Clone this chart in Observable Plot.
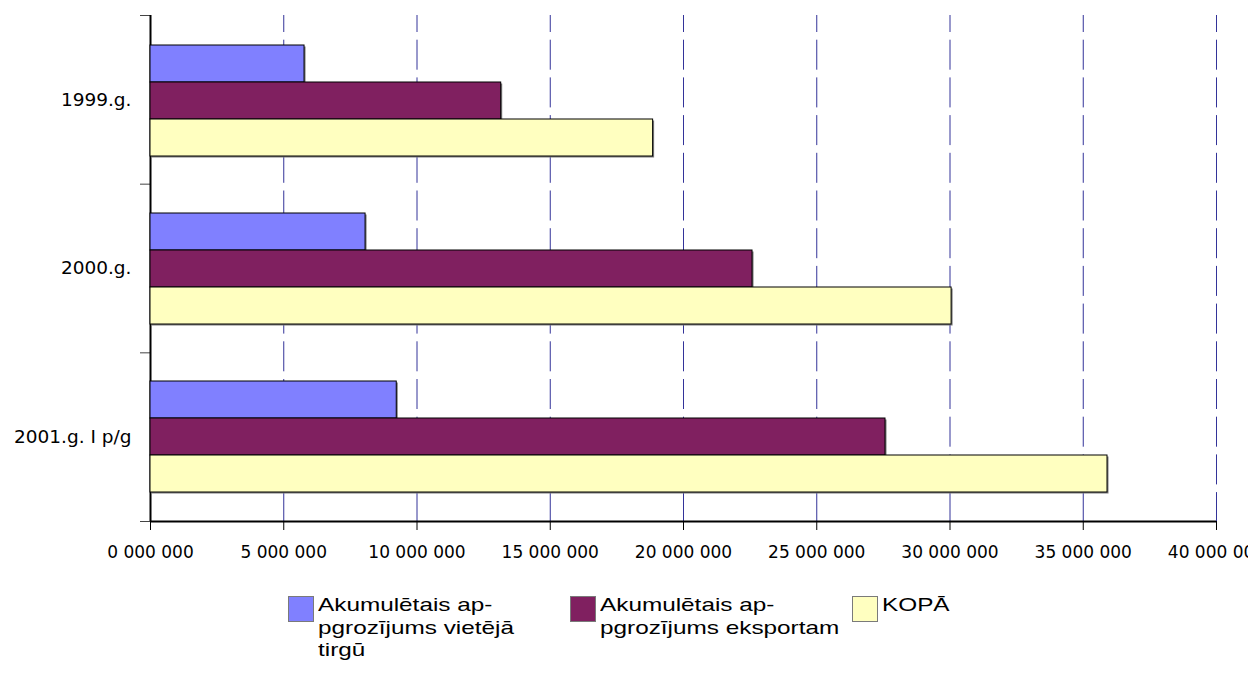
<!DOCTYPE html>
<html>
<head>
<meta charset="utf-8">
<script src="https://cdn.jsdelivr.net/npm/d3@7"></script>
<script src="https://cdn.jsdelivr.net/npm/@observablehq/plot@0.6"></script>
<style>
  html, body { margin: 0; padding: 0; background: #fff; }
  #wrap { position: relative; width: 1248px; height: 675px; overflow: hidden; }
  #wrap svg { position: absolute; left: 0; top: 0; }
  .leg-item { position: absolute; display: flex; align-items: flex-start; }
  .leg-sw { width: 24px; height: 24px; border: 1px solid #7a7a7a; box-sizing: content-box; flex: none; }
  .leg-txt { margin-left: 4px; font-family: "Liberation Sans", Arial, sans-serif; font-size: 19px; line-height: 22.5px;
             color: #000; transform: scaleX(1.28); transform-origin: left top; white-space: nowrap; margin-top: -2px; }
</style>
</head>
<body>
<div id="wrap"></div>
<script>
// ---- data ----
const categories = ["1999.g.", "2000.g.", "2001.g. I p/g"];
const seriesNames = [
  "Akumulētais ap-pgrozījums vietējā tirgū",
  "Akumulētais ap-pgrozījums eksportam",
  "KOPĀ"
];
const legendLines = [
  ["Akumulētais ap-", "pgrozījums vietējā", "tirgū"],
  ["Akumulētais ap-", "pgrozījums eksportam"],
  ["KOPĀ"]
];
const localMarket  = [5780000, 8070000, 9240000];
const exportMarket = [13160000, 22590000, 27580000];
const totalValues  = [18860000, 30060000, 35910000];
const seriesColors = ["#8080FF", "#802060", "#FFFFC0"];
const xTicks = [0, 5000000, 10000000, 15000000, 20000000, 25000000, 30000000, 35000000, 40000000];
const xTickLabels = ["0 000 000", "5 000 000", "10 000 000", "15 000 000", "20 000 000",
                     "25 000 000", "30 000 000", "35 000 000", "40 000 000"];
const gridValues = xTicks.slice(1);

const seriesValues = [localMarket, exportMarket, totalValues];
const rows = categories.flatMap((c, i) =>
  seriesNames.map((s, j) => ({category: c, series: s, value: seriesValues[j][i]})));

const W = 1248, H = 570;
const dims = {width: W, height: H, marginLeft: 150, marginRight: 32, marginTop: 15, marginBottom: 49};

// ---- back layer: grid, axes, labels ----
const back = Plot.plot({
  ...dims,
  style: {fontFamily: "DejaVu Sans, sans-serif", fontSize: "17px", background: "white", color: "black"},
  x: {domain: [0, 40000000]},
  y: {domain: [0, 3], reverse: true},
  marks: [
    Plot.ruleX(gridValues, {stroke: "#333399", strokeWidth: 1, strokeDasharray: "30,7.7", strokeDashoffset: 13}),
    Plot.axisX({ticks: xTicks, tickFormat: d => xTickLabels[xTicks.indexOf(d)], tickSize: 9, tickPadding: 15,
                stroke: "black", fill: "black", fontSize: 17}),
    Plot.axisY({ticks: [0, 1, 2, 3], tickFormat: () => "", tickSize: 10, stroke: "#444", label: null}),
    Plot.ruleX([0], {stroke: "black", strokeWidth: 2}),
    Plot.ruleY([3], {stroke: "black", strokeWidth: 2}),
    Plot.text(categories, {x: 0, y: (d, i) => i + 0.5, text: d => d, textAnchor: "end", dx: -19,
                           fontSize: 18.5, fill: "black"})
  ]
});

// ---- front layer: bars ----
const front = Plot.plot({
  ...dims,
  style: {background: "transparent"},
  x: {domain: [0, 40000000], axis: null},
  y: {domain: seriesNames, axis: null, paddingInner: 0, paddingOuter: 0.76},
  fy: {domain: categories, axis: null, padding: 0},
  color: {domain: seriesNames, range: seriesColors},
  marks: [
    Plot.barX(rows, {x: "value", y: "series", fy: "category", fill: "#7a7a7a", dx: 1.5, dy: 1.5}),
    Plot.barX(rows, {x: "value", y: "series", fy: "category", fill: "series", stroke: "black", strokeWidth: 1})
  ]
});

const wrap = document.getElementById("wrap");
wrap.appendChild(back);
wrap.appendChild(front);

// ---- legend ----
seriesNames.forEach((s, i) => {
  const item = document.createElement("div");
  item.className = "leg-item";
  item.style.left = (288 + i * 282) + "px";
  item.style.top = "596px";
  const sw = document.createElement("div");
  sw.className = "leg-sw";
  sw.style.background = seriesColors[i];
  const txt = document.createElement("div");
  txt.className = "leg-txt";
  txt.innerHTML = legendLines[i].join("<br>");
  item.appendChild(sw);
  item.appendChild(txt);
  wrap.appendChild(item);
});
</script>
</body>
</html>
